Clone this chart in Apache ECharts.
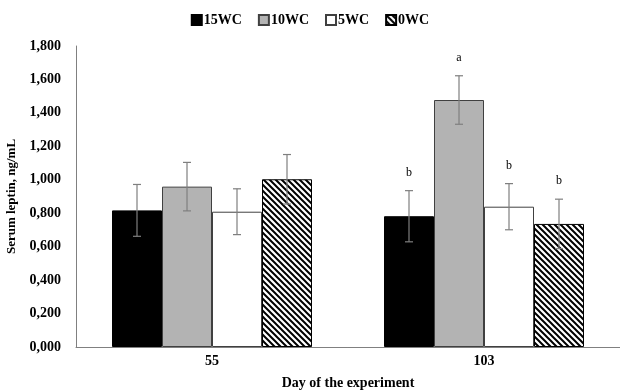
<!DOCTYPE html>
<html>
<head>
<meta charset="utf-8">
<script src="https://cdn.jsdelivr.net/npm/echarts@6/dist/echarts.min.js"></script>
<style>
  html, body { margin: 0; padding: 0; background: #fff; }
  #chart { width: 620px; height: 391px; }
</style>
</head>
<body>
<div id="chart"></div>
<script>
var days = ['55', '103'];
var groups = ['15WC', '10WC', '5WC', '0WC'];
// means per group, one entry per day
var wc15 = [0.817, 0.782];
var wc10 = [0.959, 1.477];
var wc5 = [0.809, 0.839];
var wc0 = [1.003, 0.736];
// standard errors
var err15 = [0.155, 0.153];
var err10 = [0.145, 0.145];
var err5 = [0.137, 0.138];
var err0 = [0.148, 0.148];
// significance letters (day 103 only)
var letters15 = ['', 'b'];
var letters10 = ['', 'a'];
var letters5 = ['', 'b'];
var letters0 = ['', 'b'];

var means = [wc15, wc10, wc5, wc0];
var errs = [err15, err10, err5, err0];
var letters = [letters15, letters10, letters5, letters0];

var font = '"Liberation Serif", "Times New Roman", serif';
var barW = 50;

// diagonal hatch for 0WC
function hatch() {
  var c = document.createElement('canvas');
  c.width = 6; c.height = 6;
  var g = c.getContext('2d');
  g.fillStyle = '#fff';
  g.fillRect(0, 0, 6, 6);
  g.strokeStyle = '#000';
  g.lineWidth = 2;
  g.beginPath();
  g.moveTo(-1, -1); g.lineTo(7, 7);
  g.moveTo(-4, 2); g.lineTo(2, 8);
  g.moveTo(2, -4); g.lineTo(8, 2);
  g.stroke();
  return c;
}

var fills = ['#000', '#b3b3b3', '#fff', { image: hatch(), repeat: 'repeat' }];
var borders = ['#000', '#404040', '#404040', '#000'];

var series = groups.map(function (name, i) {
  return {
    name: name,
    type: 'bar',
    barWidth: barW,
    barGap: 0,
    data: means[i],
    itemStyle: { color: fills[i], borderColor: borders[i], borderWidth: 1 },
    z: 2
  };
});

var errData = [];
for (var s = 0; s < groups.length; s++) {
  for (var d = 0; d < days.length; d++) {
    errData.push([d, means[s][d], errs[s][d], s, letters[s][d]]);
  }
}

series.push({
  type: 'custom',
  name: 'err',
  data: errData,
  z: 5,
  silent: true,
  renderItem: function (params, api) {
    var d = api.value(0), m = api.value(1), e = api.value(2), s = api.value(3);
    var lt = errData[params.dataIndex][4];
    var off = (s - 1.5) * barW;
    var top = api.coord([d, m + e]);
    var bot = api.coord([d, m - e]);
    var x = top[0] + off;
    var cap = 4;
    var st = { stroke: '#7f7f7f', lineWidth: 1.2 };
    var kids = [
      { type: 'line', shape: { x1: x, y1: top[1], x2: x, y2: bot[1] }, style: st },
      { type: 'line', shape: { x1: x - cap, y1: top[1], x2: x + cap, y2: top[1] }, style: st },
      { type: 'line', shape: { x1: x - cap, y1: bot[1], x2: x + cap, y2: bot[1] }, style: st }
    ];
    if (lt) {
      kids.push({
        type: 'text',
        style: {
          text: lt, x: x, y: top[1] - 12,
          align: 'center', verticalAlign: 'bottom',
          font: '12px ' + font, fill: '#000'
        }
      });
    }
    return { type: 'group', children: kids };
  }
});

var chart = echarts.init(document.getElementById('chart'));
chart.setOption({
  animation: false,
  backgroundColor: '#fff',
  legend: {
    data: groups,
    top: 8,
    left: 'center',
    icon: 'rect',
    itemWidth: 10,
    itemHeight: 10,
    itemGap: 16,
    textStyle: { fontFamily: font, fontWeight: 'bold', fontSize: 14, color: '#000', padding: [0, 0, 0, -3] }
  },
  grid: { left: 76, right: 0, top: 46, bottom: 44, outerBoundsMode: 'none' },
  xAxis: {
    type: 'category',
    data: days,
    name: 'Day of the experiment',
    nameLocation: 'middle',
    nameGap: 29,
    nameTextStyle: { fontFamily: font, fontWeight: 'bold', fontSize: 14, color: '#000' },
    axisLine: { lineStyle: { color: '#808080', width: 1 } },
    axisTick: { show: false },
    axisLabel: { fontFamily: font, fontWeight: 'bold', fontSize: 14, color: '#000', margin: 7 }
  },
  yAxis: {
    type: 'value',
    min: 0,
    max: 1.8,
    interval: 0.2,
    name: 'Serum leptin, ng/mL',
    nameLocation: 'middle',
    nameGap: 53,
    nameRotate: 90,
    nameTextStyle: { fontFamily: font, fontWeight: 'bold', fontSize: 13, color: '#000' },
    axisLine: { show: true, lineStyle: { color: '#808080', width: 1 } },
    axisTick: { show: false },
    splitLine: { show: false },
    axisLabel: {
      fontFamily: font, fontWeight: 'bold', fontSize: 14, color: '#000', margin: 15,
      formatter: function (v) {
        return v.toFixed(3).replace('.', ',');
      }
    }
  },
  series: series
});
</script>
</body>
</html>
